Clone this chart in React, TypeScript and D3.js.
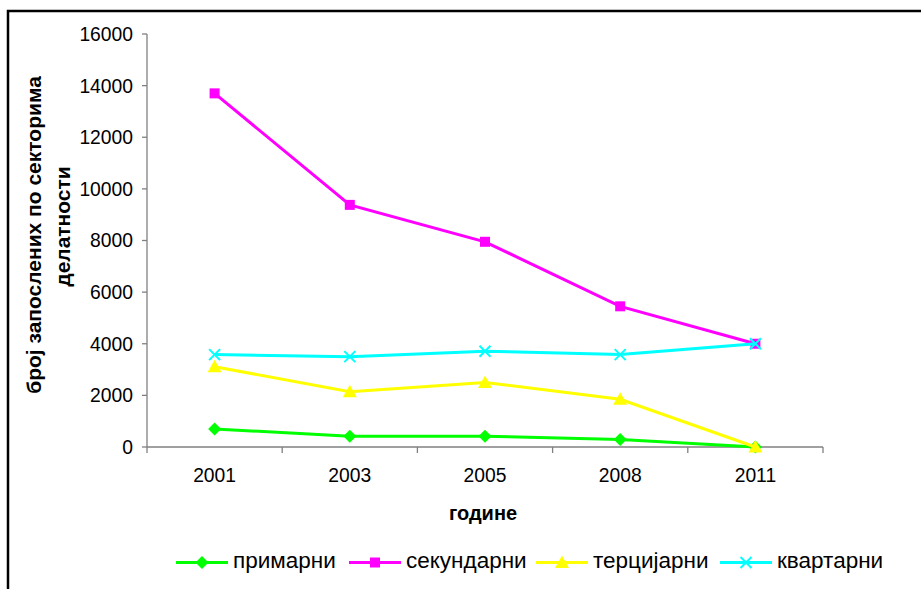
import React from "react";
import * as d3 from "d3";

const years = ["2001", "2003", "2005", "2008", "2011"];
const primarni = [700, 420, 420, 290, 0];
const sekundarni = [13700, 9380, 7950, 5450, 4000];
const tercijarni = [3110, 2140, 2500, 1850, 0];
const kvartarni = [3580, 3500, 3710, 3580, 4000];
const yTicks = [0, 2000, 4000, 6000, 8000, 10000, 12000, 14000, 16000];

const seriesNames = ["примарни", "секундарни", "терцијарни", "квартарни"];
const seriesColors = ["#00FF00", "#FF00FF", "#FFFF00", "#00FFFF"];
const seriesMarkers = ["diamond", "square", "triangle", "x"];
const seriesData = [primarni, sekundarni, tercijarni, kvartarni];

const FONT = "Arial, 'Liberation Sans', sans-serif";

function Marker({ type, x, y, color }: { type: string; x: number; y: number; color: string }) {
  if (type === "diamond") {
    const s = 6.5;
    return <path d={`M${x},${y - s}L${x + s},${y}L${x},${y + s}L${x - s},${y}Z`} fill={color} />;
  }
  if (type === "square") {
    const s = 5;
    return <rect x={x - s} y={y - s} width={2 * s} height={2 * s} fill={color} />;
  }
  if (type === "triangle") {
    const s = 7;
    return <path d={`M${x},${y - s}L${x + s},${y + s * 0.8}L${x - s},${y + s * 0.8}Z`} fill={color} />;
  }
  const s = 5.5;
  return (
    <path
      d={`M${x - s},${y - s}L${x + s},${y + s}M${x + s},${y - s}L${x - s},${y + s}`}
      stroke={color}
      strokeWidth={2}
      fill="none"
    />
  );
}

export default function App() {
  const x = d3.scaleBand<string>().domain(years).range([147, 823]);
  const y = d3.scaleLinear().domain([0, 16000]).range([447, 34]);
  const cx = (d: string) => (x(d) as number) + x.bandwidth() / 2;
  const line = d3
    .line<number>()
    .x((_, i) => cx(years[i]))
    .y((d) => y(d));

  const boundaries = years.map((d) => x(d) as number).concat([823]);

  const legendLineX = [176, 349, 536, 720];

  return (
    <svg
      width={921}
      height={589}
      style={{ position: "absolute", left: 0, top: 0, background: "#fff" }}
      fontFamily={FONT}
    >
      <rect x={0} y={0} width={921} height={589} fill="#fff" />
      <rect x={8} y={11} width={1000} height={1000} fill="none" stroke="#000" strokeWidth={2.5} />

      {/* y axis */}
      <line x1={147} x2={147} y1={y(16000)} y2={y(0)} stroke="#808080" strokeWidth={1.3} />
      {yTicks.map((t) => (
        <g key={t}>
          <line x1={142} x2={147} y1={y(t)} y2={y(t)} stroke="#808080" strokeWidth={1.3} />
          <text x={133} y={y(t)} dy="0.36em" textAnchor="end" fontSize={19.3} fill="#000">
            {t}
          </text>
        </g>
      ))}

      {/* x axis */}
      <line x1={147} x2={823} y1={y(0)} y2={y(0)} stroke="#808080" strokeWidth={1.3} />
      {boundaries.map((b, i) => (
        <line key={i} x1={b} x2={b} y1={y(0)} y2={y(0) + 6} stroke="#808080" strokeWidth={1.3} />
      ))}
      {years.map((d) => (
        <text key={d} x={cx(d)} y={482} textAnchor="middle" fontSize={19.3} fill="#000">
          {d}
        </text>
      ))}

      {/* series */}
      {seriesData.map((data, si) => (
        <g key={si}>
          <path d={line(data) as string} fill="none" stroke={seriesColors[si]} strokeWidth={3} />
          {data.map((v, i) => (
            <Marker key={i} type={seriesMarkers[si]} x={cx(years[i])} y={y(v)} color={seriesColors[si]} />
          ))}
        </g>
      ))}

      {/* axis titles */}
      <text
        transform="translate(41,235) rotate(-90)"
        textAnchor="middle"
        fontSize={21}
        fontWeight="bold"
        fill="#000"
      >
        број запослених по секторима
      </text>
      <text
        transform="translate(69.5,226.5) rotate(-90)"
        textAnchor="middle"
        fontSize={21}
        fontWeight="bold"
        fill="#000"
      >
        делатности
      </text>
      <text x={483} y={520} textAnchor="middle" fontSize={20} fontWeight="bold" fill="#000">
        године
      </text>

      {/* legend */}
      {seriesNames.map((n, i) => (
        <g key={n}>
          <line
            x1={legendLineX[i]}
            x2={legendLineX[i] + 52}
            y1={562.5}
            y2={562.5}
            stroke={seriesColors[i]}
            strokeWidth={3}
          />
          <Marker type={seriesMarkers[i]} x={legendLineX[i] + 26} y={562.5} color={seriesColors[i]} />
          <text x={legendLineX[i] + 57} y={568} fontSize={22.5} fill="#000">
            {n}
          </text>
        </g>
      ))}
    </svg>
  );
}
